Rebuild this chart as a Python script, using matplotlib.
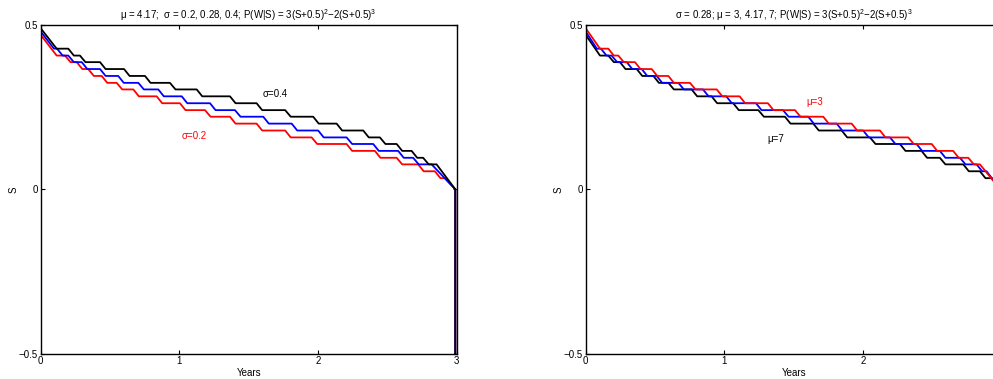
import matplotlib
matplotlib.use('Agg')
import matplotlib.pyplot as plt

plt.rcParams['font.family'] = ['Liberation Sans', 'DejaVu Sans']
plt.rcParams['mathtext.fontset'] = 'custom'
plt.rcParams['mathtext.rm'] = 'Liberation Sans'
plt.rcParams['mathtext.it'] = 'Liberation Sans:italic'

# quantised S levels of the boundary
levels = [0.428, 0.407, 0.387, 0.366, 0.345, 0.324, 0.304, 0.283, 0.262, 0.241,
          0.221, 0.200, 0.179, 0.158, 0.138, 0.117, 0.096, 0.076, 0.055, 0.034]
drop = 0.04      # time taken to fall one level
t_end = 2.99

# left panel: mu = 4.17, sigma = 0.2 / 0.28 / 0.4
sig04_start, sig04_first, sig04_reach = 0.49, 0, 0.115
sig04_ends = [0.199, 0.283, 0.428, 0.601, 0.752, 0.932, 1.125, 1.365, 1.557,
              1.763, 1.965, 2.134, 2.326, 2.446, 2.567, 2.675, 2.758, 2.855]
sig028_start, sig028_first, sig028_reach = 0.48, 0, 0.096
sig028_ends = [0.118, 0.199, 0.296, 0.428, 0.559, 0.704, 0.848, 1.017, 1.221,
               1.401, 1.605, 1.81, 2.001, 2.206, 2.398, 2.578, 2.686, 2.819]
sig02_start, sig02_first, sig02_reach = 0.47, 1, 0.115
sig02_ends = [0.175, 0.26, 0.343, 0.44, 0.548, 0.668, 0.836, 1.004, 1.185, 1.365,
              1.557, 1.763, 1.954, 2.206, 2.41, 2.567, 2.722, 2.843, 2.915]

# right panel: sigma = 0.28, mu = 3 / 4.17 / 7
mu3_start, mu3_first, mu3_reach = 0.49, 0, 0.103
mu3_ends = [0.163, 0.235, 0.355, 0.476, 0.596, 0.752, 0.945, 1.110, 1.314, 1.509,
            1.713, 1.918, 2.122, 2.326, 2.495, 2.650, 2.759, 2.843]
mu417_start, mu417_first, mu417_reach = 0.48, 0, 0.08
mu417_ends = [0.11, 0.187, 0.296, 0.404, 0.512, 0.668, 0.846, 1.014, 1.228, 1.423,
              1.605, 1.810, 2.001, 2.194, 2.386, 2.554, 2.699, 2.819, 2.891]
mu7_start, mu7_first, mu7_reach = 0.47, 1, 0.103
mu7_ends = [0.163, 0.247, 0.368, 0.488, 0.596, 0.764, 0.908, 1.064, 1.245, 1.437,
            1.641, 1.846, 2.050, 2.266, 2.422, 2.554, 2.723, 2.843, 2.93]

x_ticks = [0, 1, 2, 3]
y_ticks = [-0.5, 0, 0.5]
y_ticklabels = ['\u22120.5', '0', '0.5']


def stair(s0, first, reach, ends):
    t = [0, reach]
    s = [s0, levels[first]]
    for i, te in enumerate(ends):
        k = first + i
        t.append(te)
        s.append(levels[k])
        if i < len(ends) - 1:
            t.append(te + drop)
            s.append(levels[k + 1])
    t += [t_end, t_end]
    s += [0, -0.5]
    return t, s


def style(ax, title, xlabels):
    ax.set_xlim(0, 3)
    ax.set_ylim(-0.5, 0.5)
    ax.set_xticks(x_ticks)
    ax.set_xticklabels(xlabels)
    ax.set_yticks(y_ticks)
    ax.set_yticklabels(y_ticklabels)
    ax.tick_params(direction='in', top=True, right=True, length=3, width=0.8,
                   labelsize=7, pad=2)
    for sp in ax.spines.values():
        sp.set_linewidth(1.0)
    ax.set_title(title, fontsize=7, pad=4)
    ax.set_xlabel('Years', fontsize=7, labelpad=1)
    ax.set_ylabel('S', fontsize=7, labelpad=0.5)


fig = plt.figure(figsize=(9.93, 3.79), dpi=100)
ax1 = fig.add_axes([40.7 / 993, 25.3 / 379, 416 / 993, 328.7 / 379])
ax2 = fig.add_axes([585.7 / 993, 25.3 / 379, 416 / 993, 328.7 / 379])

lw = 1.3
ax1.plot(*stair(sig02_start, sig02_first, sig02_reach, sig02_ends), color='red', lw=lw)
ax1.plot(*stair(sig028_start, sig028_first, sig028_reach, sig028_ends), color='blue', lw=lw)
ax1.plot(*stair(sig04_start, sig04_first, sig04_reach, sig04_ends), color='black', lw=lw)
ax1.text(1.689, 0.289, '\u03c3=0.4', color='black', fontsize=7, ha='center', va='center')
ax1.text(1.105, 0.161, '\u03c3=0.2', color='red', fontsize=7, ha='center', va='center')
style(ax1, '\u03bc = 4.17;  \u03c3 = 0.2, 0.28, 0.4; P(W|S) = 3(S+0.5)$^2$\u22122(S+0.5)$^3$',
      ['0', '1', '2', '3'])

ax2.plot(*stair(mu7_start, mu7_first, mu7_reach, mu7_ends), color='black', lw=lw)
ax2.plot(*stair(mu417_start, mu417_first, mu417_reach, mu417_ends), color='blue', lw=lw)
ax2.plot(*stair(mu3_start, mu3_first, mu3_reach, mu3_ends), color='red', lw=lw)
ax2.text(1.651, 0.265, '\u03bc=3', color='red', fontsize=7, ha='center', va='center')
ax2.text(1.368, 0.153, '\u03bc=7', color='black', fontsize=7, ha='center', va='center')
# the right panel runs past the picture's edge, so its "3" is not visible
style(ax2, '\u03c3 = 0.28; \u03bc = 3, 4.17, 7; P(W|S) = 3(S+0.5)$^2$\u22122(S+0.5)$^3$',
      ['0', '1', '2', ''])

fig.savefig('out.png', dpi=100)
